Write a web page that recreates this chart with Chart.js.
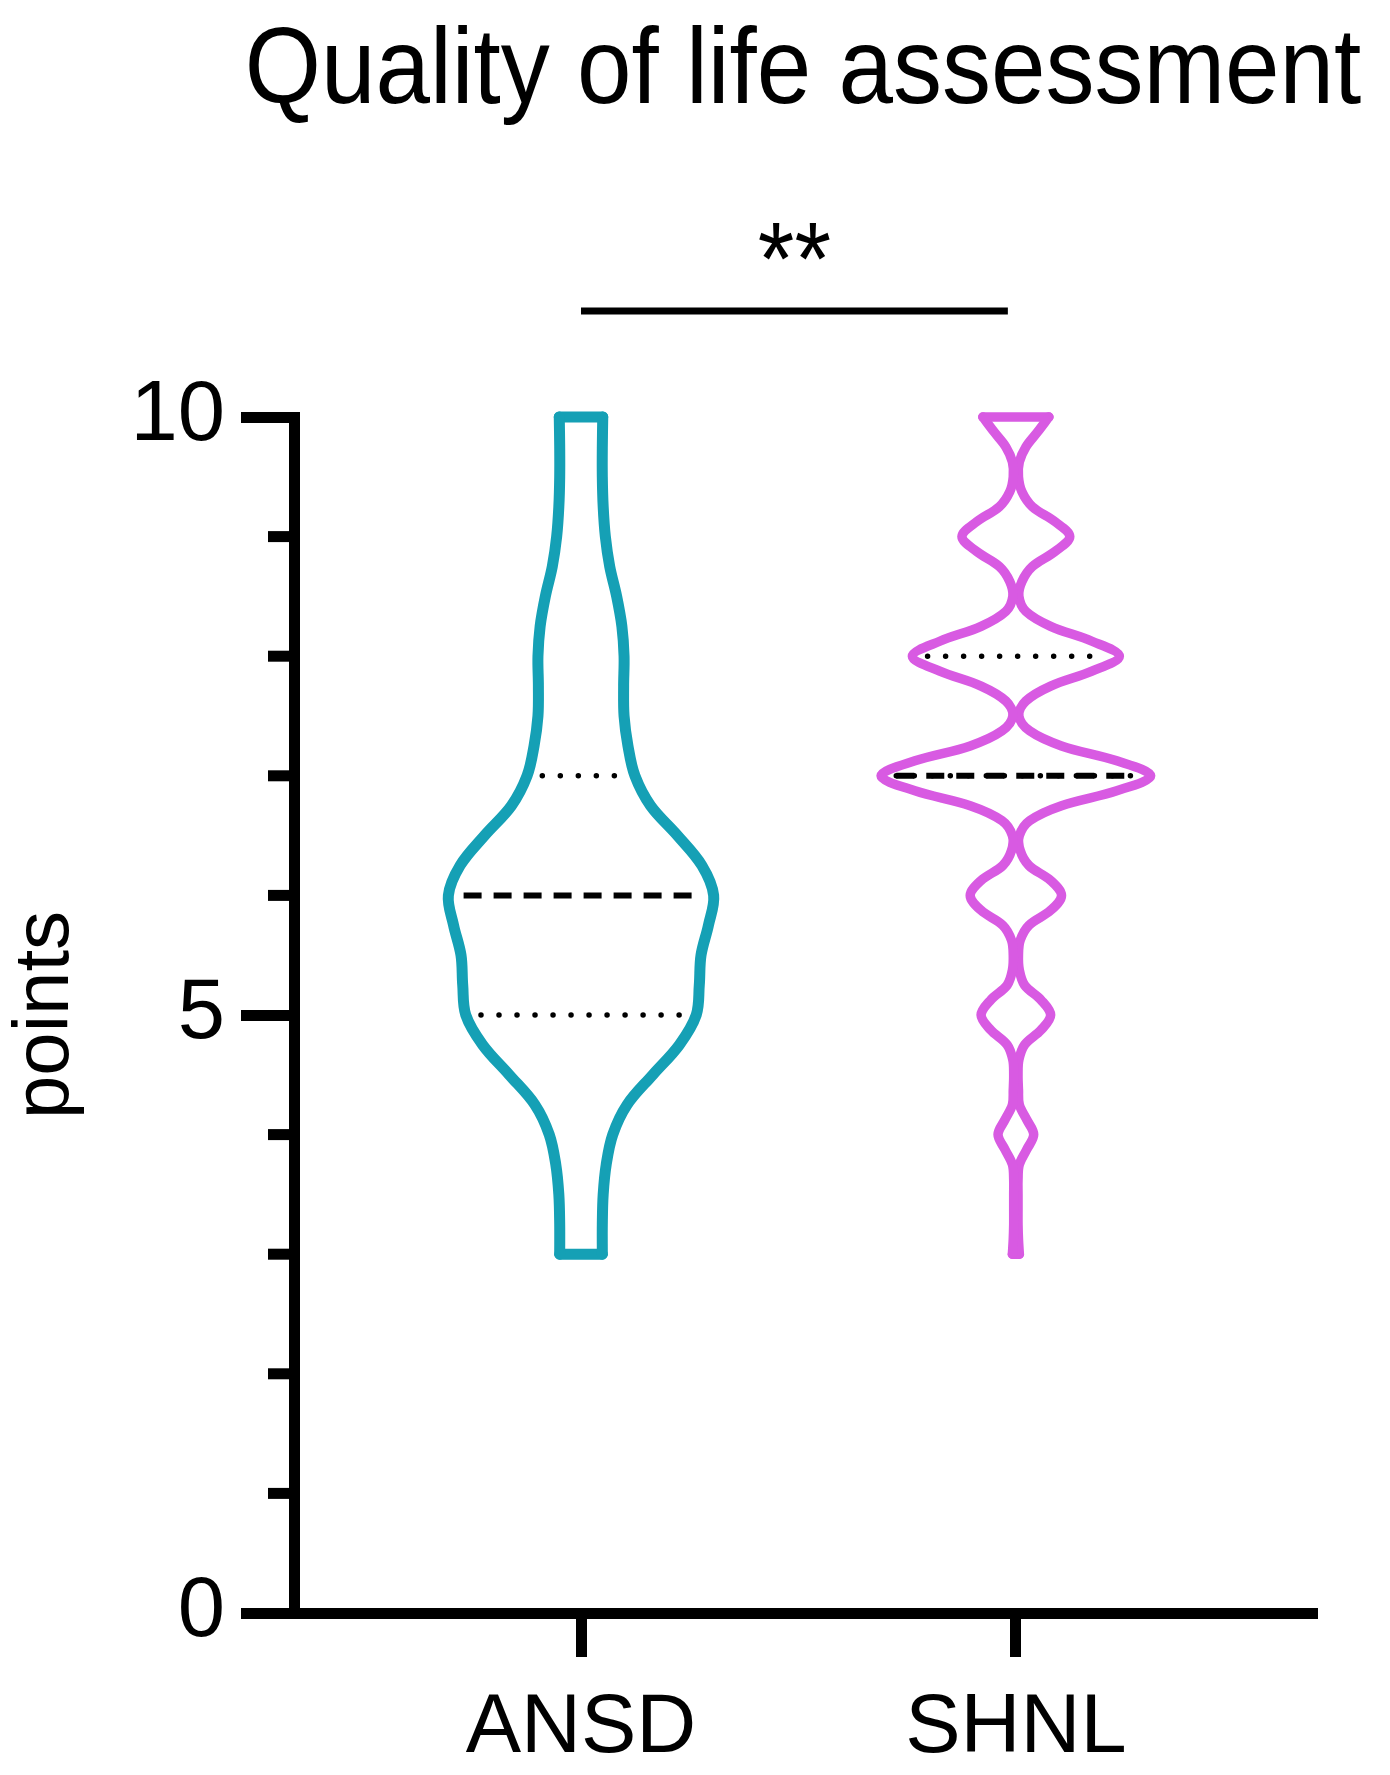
<!DOCTYPE html>
<html>
<head>
<meta charset="utf-8">
<title>Quality of life assessment</title>
<script src="https://cdn.jsdelivr.net/npm/chart.js@4.4.1/dist/chart.umd.min.js"></script>
<style>
  html, body { margin: 0; padding: 0; background: #fff; }
  #wrap { width: 1390px; height: 1775px; position: relative; }
</style>
</head>
<body>
<div id="wrap"><canvas id="chart"></canvas></div>
<script>
// ============================================================
// DATA — violin outlines (half-width in x units)
// ============================================================
const categories = ['ANSD', 'SHNL'];
const titleText = 'Quality of life assessment';
const yTickLabels = [0, 5, 10];

const ansdLevels = [10, 9.75, 9.5, 9.25, 9, 8.75, 8.5, 8.25, 8, 7.75, 7.5, 7.25, 7, 6.75, 6.5, 6.25, 6,
  5.75, 5.5, 5.25, 5, 4.75, 4.5, 4.25, 4, 3.75, 3.5, 3.25, 3];
const ansdHalfWidth = [0.050, 0.049, 0.049, 0.051, 0.056, 0.066, 0.082, 0.094, 0.099, 0.098, 0.099, 0.108, 0.124,
  0.160, 0.222, 0.278, 0.305, 0.293, 0.276, 0.272, 0.265, 0.226, 0.165, 0.106, 0.073, 0.058, 0.051, 0.049, 0.049];

const shnlLevels = [10, 9.875, 9.75, 9.625, 9.5, 9.375, 9.25, 9.125, 9,
  8.875, 8.75, 8.625, 8.5, 8.375, 8.25, 8.125, 8,
  7.875, 7.75, 7.625, 7.5, 7.375, 7.25, 7.125, 7,
  6.875, 6.75, 6.625, 6.5, 6.375, 6.25, 6.125, 6,
  5.875, 5.75, 5.625, 5.5, 5.375, 5.25, 5.125, 5,
  4.875, 4.75, 4.625, 4.5, 4.375, 4.25, 4.125, 4,
  3.875, 3.75, 3.625, 3.5, 3.375, 3.25, 3.125, 3];
const shnlHalfWidth = [0.076, 0.050, 0.023, 0.008, 0.006, 0.014, 0.038, 0.090, 0.124,
  0.090, 0.038, 0.014, 0.007, 0.023, 0.080, 0.175, 0.238,
  0.175, 0.080, 0.023, 0.007, 0.032, 0.105, 0.232, 0.310,
  0.232, 0.105, 0.032, 0.008, 0.010, 0.030, 0.080, 0.105,
  0.080, 0.030, 0.010, 0.006, 0.008, 0.020, 0.058, 0.080,
  0.058, 0.020, 0.007, 0.005, 0.006, 0.008, 0.025, 0.041,
  0.025, 0.008, 0.005, 0.005, 0.005, 0.005, 0.006, 0.008];

// [Q1, median, Q3]
const ansdQuartiles = [5, 6, 7];
const shnlQuartiles = [7, 7, 8];

// ============================================================
// STYLE
// ============================================================
const FONT = "'Liberation Sans', Arial, Helvetica, sans-serif";
const COLORS = { ansd: '#15a0b5', shnl: '#d85ae2', ink: '#000000' };
const AXIS_W = 11;
const QUART_INSET = 0.035;

function violinDatasets(center, levels, halfWidth, color, width) {
  const left = levels.map((v, i) => ({ x: center - halfWidth[i], y: v }));
  const right = levels.map((v, i) => ({ x: center + halfWidth[i], y: v }));
  const n = levels.length - 1;
  const base = {
    borderColor: color, borderWidth: width, pointRadius: 0, fill: false,
    borderJoinStyle: 'round', borderCapStyle: 'round', clip: false,
  };
  return [
    { ...base, data: left, tension: 0.35 },
    { ...base, data: right, tension: 0.35 },
    { ...base, data: [left[0], right[0]], tension: 0 },
    { ...base, data: [left[n], right[n]], tension: 0 },
  ];
}

function quartileDatasets(center, levels, halfWidth, quartiles) {
  const span = q => halfWidth[levels.indexOf(q)] - QUART_INSET;
  const dotted = { borderColor: COLORS.ink, borderWidth: 5.5, borderDash: [0.01, 18], borderCapStyle: 'round', pointRadius: 0, tension: 0 };
  const dashed = { borderColor: COLORS.ink, borderWidth: 6, borderDash: [18, 12], borderCapStyle: 'butt', pointRadius: 0, tension: 0 };
  const seg = q => [{ x: center - span(q), y: q }, { x: center + span(q), y: q }];
  return [
    { ...dotted, data: seg(quartiles[0]) },
    { ...dashed, data: seg(quartiles[1]) },
    { ...dotted, data: seg(quartiles[2]) },
  ];
}

// draw text a bit taller than wide, like the exported figure
function tallText(ctx, text, x, baseline, size, stretch) {
  ctx.save();
  ctx.translate(x, baseline);
  ctx.scale(1, stretch);
  ctx.font = `${size}px ${FONT}`;
  ctx.fillText(text, 0, 0);
  ctx.restore();
}

// Title, minor y ticks and the significance bracket
const annotationsPlugin = {
  id: 'annotations',
  afterDraw(chart) {
    const { ctx, chartArea, scales: { x, y } } = chart;
    ctx.save();
    ctx.fillStyle = COLORS.ink;
    ctx.strokeStyle = COLORS.ink;
    ctx.textAlign = 'center';
    ctx.textBaseline = 'alphabetic';
    tallText(ctx, titleText, (chartArea.left + chartArea.right) / 2, 103, 98, 1.1);

    ctx.lineWidth = AXIS_W;
    y.ticks.forEach(t => {
      if (yTickLabels.includes(t.value)) return;
      const py = y.getPixelForValue(t.value);
      ctx.beginPath();
      ctx.moveTo(chartArea.left - 26, py);
      ctx.lineTo(chartArea.left, py);
      ctx.stroke();
    });

    const x1 = x.getPixelForValue(1);
    const x2 = x.getPixelForValue(2) - 8;
    const by = chartArea.top - 106;
    ctx.lineWidth = 7;
    ctx.beginPath();
    ctx.moveTo(x1, by);
    ctx.lineTo(x2, by);
    ctx.stroke();
    tallText(ctx, '**', (x1 + x2) / 2, by - 16, 94, 1.1);
    ctx.restore();
  }
};

const datasets = [
  ...quartileDatasets(1, ansdLevels, ansdHalfWidth, ansdQuartiles),
  ...quartileDatasets(2, shnlLevels, shnlHalfWidth, shnlQuartiles),
  ...violinDatasets(1, ansdLevels, ansdHalfWidth, COLORS.ansd, 11),
  ...violinDatasets(2, shnlLevels, shnlHalfWidth, COLORS.shnl, 9.5),
];

new Chart(document.getElementById('chart'), {
  type: 'line',
  data: { datasets },
  plugins: [annotationsPlugin],
  options: {
    responsive: true,
    maintainAspectRatio: false,
    animation: false,
    layout: { padding: { top: 417, right: 78, bottom: 0, left: 0 } },
    plugins: { legend: { display: false }, tooltip: { enabled: false }, title: { display: false } },
    scales: {
      x: {
        type: 'linear', min: 0.34, max: 2.681,
        afterBuildTicks(scale) { scale.ticks = categories.map((c, i) => ({ value: i + 1 })); },
        afterFit(scale) { scale.height = 162; },
        ticks: {
          color: COLORS.ink, padding: 22, maxRotation: 0, autoSkip: false,
          font: { family: FONT, size: 83 },
          callback: v => categories[v - 1] ?? '',
        },
        grid: { drawOnChartArea: false, tickLength: 44, tickWidth: AXIS_W, lineWidth: AXIS_W, tickColor: COLORS.ink },
        border: { display: true, width: AXIS_W, color: COLORS.ink },
      },
      y: {
        min: 0, max: 10,
        afterFit(scale) { scale.width = 294; },
        ticks: {
          stepSize: 1, autoSkip: false, padding: 16, color: COLORS.ink,
          font: { family: FONT, size: 85 },
          callback: v => (yTickLabels.includes(v) ? v : ''),
        },
        grid: {
          drawOnChartArea: false, tickLength: 53, tickWidth: AXIS_W, lineWidth: AXIS_W,
          tickColor: c => (c.tick && yTickLabels.includes(c.tick.value) ? COLORS.ink : 'rgba(0,0,0,0)'),
        },
        border: { display: true, width: AXIS_W, color: COLORS.ink },
        title: { display: true, text: 'points', color: COLORS.ink, font: { family: FONT, size: 78 }, padding: { top: 0, bottom: 0 } },
      },
    },
  },
});
</script>
</body>
</html>
